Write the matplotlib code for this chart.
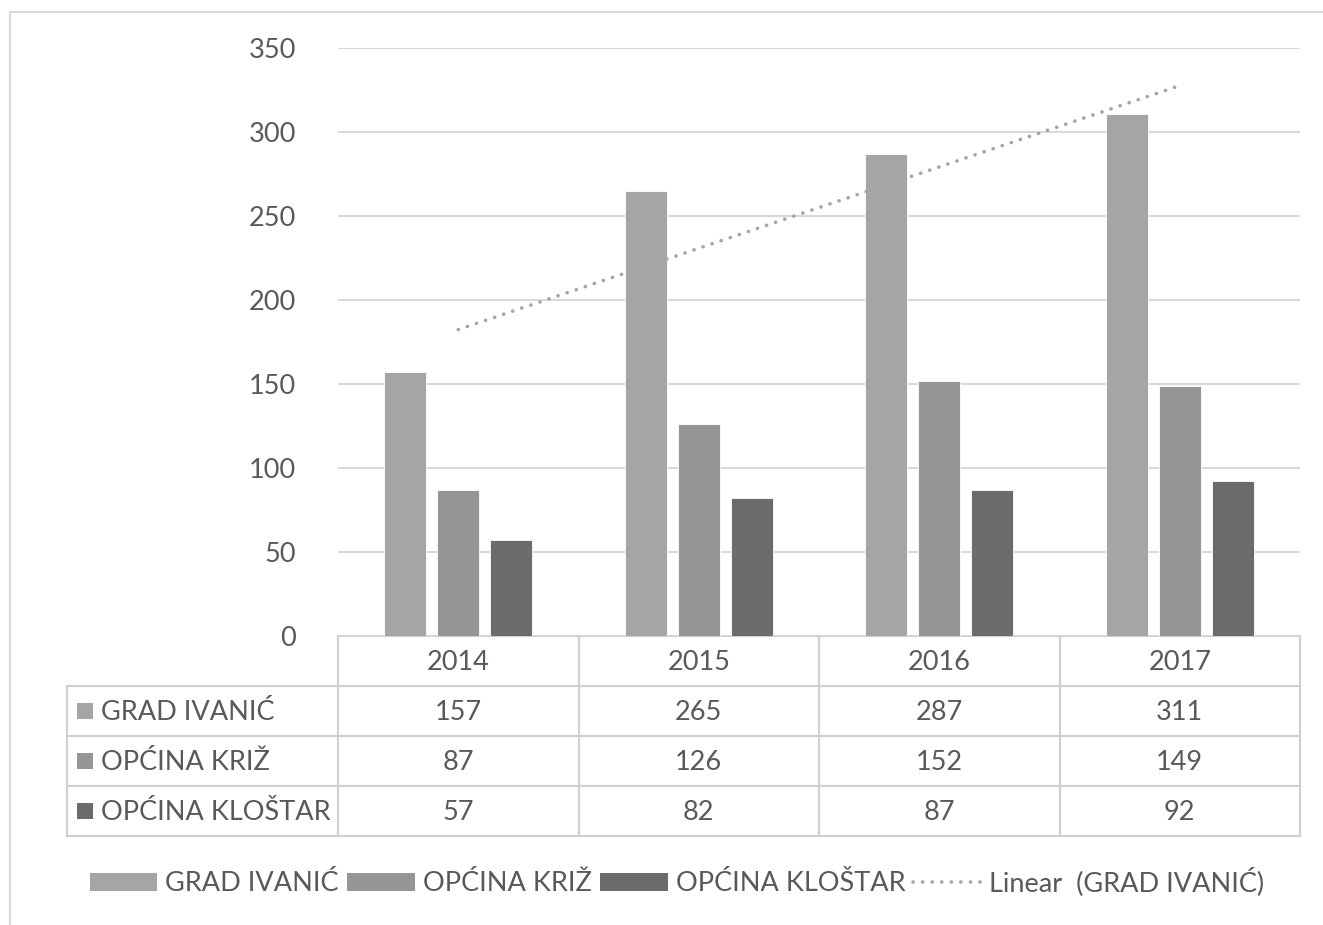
import numpy as np
import matplotlib
matplotlib.use("Agg")
import matplotlib.pyplot as plt
from matplotlib.patches import Rectangle
from matplotlib.lines import Line2D

plt.rcParams['font.family'] = ['Lato', 'DejaVu Sans']

years = ["2014", "2015", "2016", "2017"]
series_names = ["GRAD IVANIĆ", "OPĆINA KRIŽ", "OPĆINA KLOŠTAR"]
grad_ivanic = [157, 265, 287, 311]
opcina_kriz = [87, 126, 152, 149]
opcina_klostar = [57, 82, 87, 92]
yticks = [0, 50, 100, 150, 200, 250, 300, 350]
trend_label = "Linear  (GRAD IVANIĆ)"

series = [grad_ivanic, opcina_kriz, opcina_klostar]
colors = ["#a5a5a5", "#959595", "#6b6b6b"]
text_color = "#595959"
grid_color = "#d9d9d9"
FS = 19.5
dot_style = (0, (0.05, 2.6))

W, H = 1323, 925
fig = plt.figure(figsize=(W / 100, H / 100), dpi=100)

# background overlay axes in pixel coordinates
bg = fig.add_axes([0, 0, 1, 1])
bg.set_xlim(0, W)
bg.set_ylim(H, 0)
bg.axis('off')

# plot axes
L, R, T, B = 338, 1300, 48, 636
ax = fig.add_axes([L / W, 1 - B / H, (R - L) / W, (B - T) / H])
ax.set_xlim(0, len(years))
ax.set_ylim(0, 350)
ax.set_yticks(yticks)
ax.set_yticklabels([str(v) for v in yticks])
ax.tick_params(axis='y', length=0, pad=30, labelsize=FS, labelcolor=text_color)
ax.set_xticks([])
for s in ax.spines.values():
    s.set_visible(False)
ax.grid(axis='y', color=grid_color, linewidth=1.5)
ax.set_axisbelow(True)
ax.patch.set_alpha(0)

x = np.arange(len(years)) + 0.5
bw = 0.175
step = 0.22
for i, (vals, c) in enumerate(zip(series, colors)):
    ax.bar(x + (i - 1) * step, vals, width=bw, color=c, edgecolor='white', linewidth=0.6, zorder=3)

# linear trend for GRAD IVANIĆ
idx = np.arange(1, len(years) + 1)
k, b0 = np.polyfit(idx, grad_ivanic, 1)
ax.plot(x, k * idx + b0, color="#a5a5a5", linestyle=dot_style, linewidth=2.6,
        dash_capstyle='round', zorder=4)

# outer chart border (left and top visible)
bg.plot([10, 10], [12, H + 5], color=grid_color, lw=1.5)
bg.plot([10, W + 5], [12, 12], color=grid_color, lw=1.5)

# data table
tcol = "#d0d0d0"
col_edges = np.linspace(L, R, len(years) + 1)
row_y = [636, 686, 736, 786, 836]
left_x = 67
bg.plot([L, R], [row_y[0], row_y[0]], color=tcol, lw=1.5)
for yy in row_y[1:]:
    bg.plot([left_x, R], [yy, yy], color=tcol, lw=1.5)
for xx in col_edges:
    bg.plot([xx, xx], [row_y[0], row_y[-1]], color=tcol, lw=1.5)
bg.plot([left_x, left_x], [row_y[1], row_y[-1]], color=tcol, lw=1.5)

centers = (col_edges[:-1] + col_edges[1:]) / 2
for cx, yr in zip(centers, years):
    bg.text(cx, (row_y[0] + row_y[1]) / 2 + 2, yr, ha='center', va='center',
            fontsize=FS, color=text_color)
for r, (name, vals, c) in enumerate(zip(series_names, series, colors)):
    ym = (row_y[r + 1] + row_y[r + 2]) / 2
    bg.add_patch(Rectangle((77, ym - 8), 16, 16, facecolor=c, edgecolor='none'))
    bg.text(101, ym + 1, name, ha='left', va='center', fontsize=FS, color=text_color)
    for cx, v in zip(centers, vals):
        bg.text(cx, ym + 1, str(v), ha='center', va='center', fontsize=FS, color=text_color)

# legend
handles = [Rectangle((0, 0), 1, 1, facecolor=c, edgecolor='none') for c in colors]
handles.append(Line2D([0], [0], color="#a5a5a5", linestyle=dot_style, lw=2.6,
                      dash_capstyle='round'))
labels = series_names + [trend_label]
leg = fig.legend(handles, labels, loc='center', bbox_to_anchor=(677 / W, 1 - 882 / H),
                 ncol=4, frameon=False, fontsize=FS, handlelength=2.5, handleheight=0.6,
                 handletextpad=0.3, columnspacing=0.3, labelcolor=text_color)

fig.savefig("out.png", dpi=100)
